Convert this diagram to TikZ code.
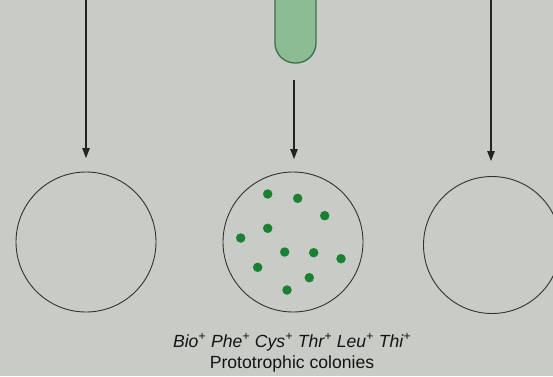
\documentclass[tikz,border=0pt]{standalone}
\usepackage{fontspec}
\setmainfont{Liberation Sans}
\usetikzlibrary{arrows.meta,shapes.misc}
\definecolor{bg}{RGB}{201,204,198}
\definecolor{plateline}{RGB}{50,50,50}
\definecolor{tubefill}{RGB}{140,188,148}
\definecolor{tubeline}{RGB}{62,110,72}
\definecolor{colony}{RGB}{28,128,52}
\definecolor{arrowcol}{RGB}{35,35,35}
\tikzset{
  plate/.style={circle, draw=plateline, line width=0.9pt, inner sep=0pt},
  colonydot/.style={circle, fill=colony, inner sep=0pt, minimum size=9.5pt},
  arr/.style={draw=arrowcol, line width=1.1pt, -{Triangle[length=10pt,width=7.5pt]}},
  lbl/.style={font=\fontsize{17.6}{21}\selectfont, align=center, text=black!92, inner sep=0pt}
}
\newcommand{\plusup}{\textsuperscript{+}}
\begin{document}
\begin{tikzpicture}[x=1pt,y=-1pt]
\fill[bg] (0,0) rectangle (553,376);
\useasboundingbox (0,0) rectangle (553,376);
% tube
\node[draw=tubeline, fill=tubefill, line width=1.3pt, rounded corners=20pt,
      minimum width=41pt, minimum height=100pt, inner sep=0pt] (tube) at (295.5,13) {};
% plates
\node[plate, minimum size=140pt] (p1) at (86,242) {};
\node[plate, minimum size=140pt] (p2) at (293,242) {};
\node[plate, minimum size=137pt] (p3) at (492,245) {};
% arrows
\coordinate (a1s) at (86,-2);
\coordinate (a1e) at (86,158);
\coordinate (a2s) at (294,80);
\coordinate (a2e) at (294,159);
\coordinate (a3s) at (491,-2);
\coordinate (a3e) at (491,161);
\draw[arr] (a1s) -- (a1e);
\draw[arr] (a2s) -- (a2e);
\draw[arr] (a3s) -- (a3e);
% colonies
\foreach \i/\x/\y in {1/267.7/194,2/297.7/198.3,3/324.7/215.7,4/267.7/228.3,5/240.7/238,6/284.7/252,7/313.7/252.7,8/341/258.7,9/257.7/267.3,10/309.3/277.7,11/287/290}
  \node[colonydot] (c\i) at (\x,\y) {};
% labels
\node[lbl, anchor=base] (l1) at (292,347) {\itshape Bio\plusup{} Phe\plusup{} Cys\plusup{} Thr\plusup{} Leu\plusup{} Thi\plusup};
\node[lbl, anchor=base] (l2) at (292,368) {Prototrophic colonies};
\end{tikzpicture}
\end{document}
